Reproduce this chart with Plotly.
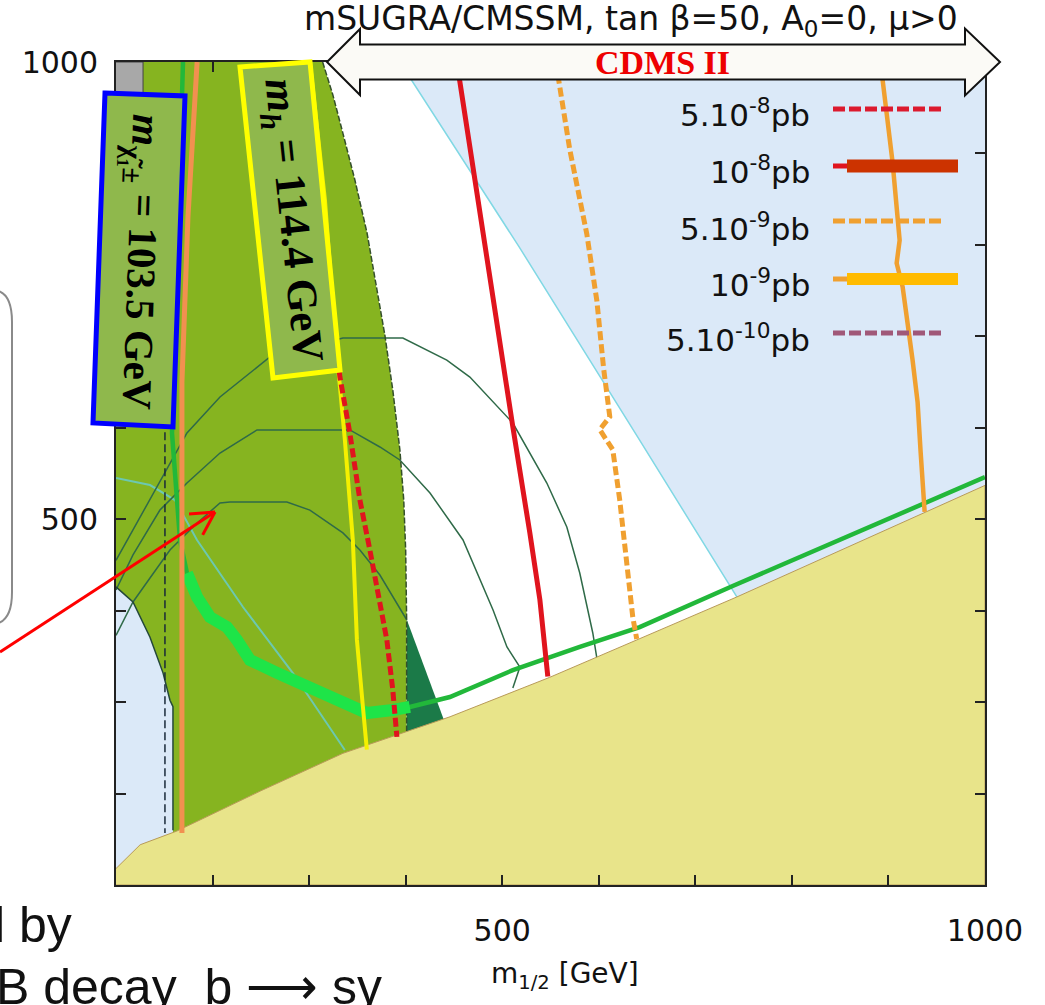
import math
import plotly.graph_objects as go

# ---------------- data (m_1/2 [GeV], m_0 [GeV]) ----------------
# stau-LSP excluded wedge (upper edge)
stau_m12 = [100, 125, 163, 250, 335, 446, 549, 743, 1000]
stau_m0 = [118, 144, 159, 203, 244, 284, 327, 415, 537]

# b -> s gamma excluded region (olive)
bsg_m12 = [100, 117.6, 135.2, 148.7, 155.9, 159, 159, 401, 401, 400, 398, 394, 386.7, 378.5, 370, 360, 347.4, 335, 324.6, 314, 100]
bsg_m0 = [426, 409.5, 371, 332, 302, 295, 150, 150, 390, 466, 521, 576, 641, 701, 751, 813, 871, 922, 964, 1000, 1000]

# g-2 favoured region (white)
gm2_m12 = [300, 394, 518, 642, 743, 800, 300]
gm2_m0 = [1000, 1000, 797, 587, 415, 300, 200]
gm2_edge_m12 = [394, 518, 642, 743]
gm2_edge_m0 = [1000, 797, 587, 415]

# small grey region, top left
grey_m12 = [100, 128, 128, 100]
grey_m0 = [1000, 1000, 860, 860]

# dark green wedge next to the b -> s gamma boundary
wedge_m12 = [401.2, 445, 401.2]
wedge_m0 = [390, 265, 240]

# left (light blue) boundary and right edge of the b -> s gamma region
lb_edge_m12 = [100, 117.6, 135.2, 148.7, 155.9, 159, 159]
lb_edge_m0 = [426, 409.5, 371, 332, 302, 295, 160]
bsg_edge_m12 = [314, 324.6, 335, 347.4, 360, 370, 378.5, 386.7, 394, 398, 400, 401, 401]
bsg_edge_m0 = [1000, 964, 922, 871, 813, 751, 701, 641, 576, 521, 466, 390, 264]

# thin dark-green contours
c1_m12 = [100, 117.6, 135.2, 155.9, 181.8, 207.7, 218, 277, 300.8, 335, 352.6, 373.3, 401.2]
c1_m0 = [373, 409.5, 435.7, 466.4, 493.7, 517.8, 518.8, 518.8, 510, 485, 466.4, 439, 389.8]
c2_m12 = [100, 117.6, 145.5, 173.5, 207.7, 246, 342.2, 373.3, 394, 425.2, 459.4, 490.5, 504.9, 518.3, 511]
c2_m0 = [422.6, 460.9, 510, 539.6, 572.4, 597.6, 597.6, 579, 564.8, 528.7, 477.3, 400.7, 360.3, 338.4, 315.4]
c3_m12 = [100, 135.2, 173.5, 207.7, 259.4, 335, 397.1, 442.6, 466.5, 511, 546.2, 566.9, 580.3, 593.8, 598]
c3_m0 = [455, 521, 594.3, 633.7, 677.4, 698.2, 698.2, 674, 655.5, 605.2, 539.6, 491.5, 441.2, 375.6, 348.2]

# light teal line inside the olive region
teal_m12 = [100, 135.2, 161, 183.9, 231.5, 283.2, 337]
teal_m0 = [545, 537.4, 521, 477.3, 404, 331.8, 247.6]

# LEP chargino bound (dashed) and chargino mass contour
lep_m12 = [150.7, 150.7]
lep_m0 = [700, 157]
chi_m12 = [184, 174.5, 168.3, 168.3]
chi_m0 = [1000, 830, 650, 157]

# WMAP relic density strip
wmap_m12 = [169.4, 158, 166.3, 173.5, 183.9, 197.3, 214.9, 225.3, 238.7, 266.7, 300.8, 335, 359.8, 386.8, 404.3, 445.8, 511, 580.3, 642.4, 738.7, 863, 1000]
wmap_m0 = [1000, 594, 477, 441, 415, 393, 382, 368, 346, 332, 316.5, 299, 288, 291.4, 294.7, 305.6, 335, 360.3, 382, 427, 483, 546]
wmap_band = slice(3, 15)

# Higgs mass contour m_h = 114.4 GeV
mh_m12 = [300.8, 316.4, 326.7, 337, 345.3, 349.5, 355.7, 359.8]
mh_m0 = [1000, 849, 704, 587, 477, 368, 295, 248]

# spin-independent cross-section contours
s5e8_m12 = [290.5, 309, 321.5, 331.9, 342.2, 352.6, 363, 370.2, 380.5, 386.7, 390.9]
s5e8_m0 = [1000, 849, 740, 655.5, 594, 521, 466, 422.6, 368, 313, 262]
s1e8_m12 = [453, 490.3, 511, 528.6, 539, 547.2]
s1e8_m0 = [1000, 740, 601, 485, 412, 328]
s5e9_m12 = [555.5, 570, 587.6, 598, 605, 611.4, 601, 614.5, 621.7, 629, 635.2, 639.3]
s5e9_m0 = [1000, 904, 812, 739, 665, 612, 598, 576, 521, 448, 393, 369]
s1e9_m12 = [889.9, 894, 904.3, 911.6, 908.5, 914.7, 925, 930.2, 933.3, 937.5]
s1e9_m0 = [1000, 980, 890, 805, 780, 754, 674, 628, 574, 508]

legend_labels = ["5.10<sup>-8</sup>pb", "10<sup>-8</sup>pb", "5.10<sup>-9</sup>pb",
                 "10<sup>-9</sup>pb", "5.10<sup>-10</sup>pb"]
major_ticks = [500, 1000]
major_text = ["500", "1000"]

# ---------------- colours ----------------
C_BG = "#dbe9f8"
C_OLIVE = "#86b420"
C_STAU = "#e8e48a"
C_WEDGE = "#1b7a48"
C_CONT = "#2f6a48"
C_TEAL = "#6cc8b0"
C_CYAN = "#80d8e4"
C_RED = "#e0141e"
C_ORANGE = "#f0a030"

fig = go.Figure()


def area(x, y, color, line_color=None, line_width=0):
    fig.add_trace(go.Scatter(x=x, y=y, mode="lines", fill="toself", fillcolor=color,
                             line=dict(color=line_color or color, width=line_width),
                             hoverinfo="skip"))


def curve(x, y, color, width, dash="solid"):
    fig.add_trace(go.Scatter(x=x, y=y, mode="lines",
                             line=dict(color=color, width=width, dash=dash),
                             hoverinfo="skip"))


area(gm2_m12, gm2_m0, "#ffffff")
area(bsg_m12, bsg_m0, C_OLIVE)
area(grey_m12, grey_m0, "#a8a8a8", "#444444", 1)
area(wedge_m12, wedge_m0, C_WEDGE)

curve(gm2_edge_m12, gm2_edge_m0, C_CYAN, 1.5)
curve(teal_m12, teal_m0, C_TEAL, 2)
curve(c1_m12, c1_m0, C_CONT, 1.5)
curve(c2_m12, c2_m0, C_CONT, 1.5)
curve(c3_m12, c3_m0, C_CONT, 1.5)
curve(lb_edge_m12, lb_edge_m0, "#24483a", 1.5)
curve(bsg_edge_m12, bsg_edge_m0, "#34502a", 1.5, "6px,2px")
curve(lep_m12, lep_m0, "#1a2a3a", 1.5, "8px,4px")

# stau wedge on top so every contour ends on its edge
area(stau_m12 + [1000, 100], stau_m0 + [100, 100], C_STAU, "#b89a58", 1)

# WMAP strip: thin line everywhere, wide band where the strip broadens
curve(wmap_m12, wmap_m0, "#22b83a", 4.5)
curve(wmap_m12[wmap_band], wmap_m0[wmap_band], "#1ee448", 12)

curve(chi_m12, chi_m0, "#f29050", 5)
curve(mh_m12, mh_m0, "#f4f000", 4)
curve(s5e8_m12, s5e8_m0, C_RED, 5, "9px,4px")
curve(s1e8_m12, s1e8_m0, C_RED, 5)
curve(s5e9_m12, s5e9_m0, C_ORANGE, 5, "9px,4px")
curve(s1e9_m12, s1e9_m0, C_ORANGE, 4.5)

# ---------------- page geometry helpers for decorations ----------------
L, T, W, H = 116, 62, 869, 823


def P(px, py):
    return (px - L) / W, (T + H - py) / H


def path(points, close=True):
    s = ""
    for i, (px, py) in enumerate(points):
        x, y = P(px, py)
        s += ("M" if i == 0 else "L") + f"{x:.5f},{y:.5f} "
    return s + ("Z" if close else "")


shapes = []

# double-headed CDMS II arrow
arrow_pts = [(327, 62), (360, 29), (360, 44.5), (965, 44.5), (965, 28.5), (1000, 62),
             (965, 95.5), (965, 79.5), (360, 79.5), (360, 95)]
shapes.append(dict(type="path", xref="paper", yref="paper", path=path(arrow_pts),
                   fillcolor="#fbfaf6", line=dict(color="#111111", width=2)))

# tilted label boxes
blue_box = [(105, 93), (185, 96), (173, 427), (93, 423)]
yellow_box = [(240, 67), (310, 62), (340, 370), (273, 378)]
shapes.append(dict(type="path", xref="paper", yref="paper", path=path(blue_box),
                   fillcolor="#8fb84c", line=dict(color="#0000ff", width=5)))
shapes.append(dict(type="path", xref="paper", yref="paper", path=path(yellow_box),
                   fillcolor="#8fb84c", line=dict(color="#ffff00", width=5)))

# grey rounded box at the left edge of the page
gx0, gy0 = P(-40, 290)
gx1, gy1 = P(-8, 290)
gqx, gqy = P(12, 290)
gx2, gy2 = P(12, 322)
gx3, gy3 = P(12, 592)
gqx2, gqy2 = P(12, 624)
gx4, gy4 = P(-8, 624)
gx5, gy5 = P(-40, 624)
shapes.append(dict(type="path", xref="paper", yref="paper",
                   path=(f"M{gx0},{gy0} L{gx1},{gy1} Q{gqx},{gqy} {gx2},{gy2} "
                         f"L{gx3},{gy3} Q{gqx2},{gqy2} {gx4},{gy4} L{gx5},{gy5}"),
                   line=dict(color="#8a8a8a", width=2)))

# red pointer arrow
tail, tip = (0, 652), (215, 512)
dx, dy = tip[0] - tail[0], tip[1] - tail[1]
ln = math.hypot(dx, dy)
ux, uy = dx / ln, dy / ln
for ang in (0.5, -0.5):
    ca, sa = math.cos(ang), math.sin(ang)
    bx = -(ux * ca - uy * sa) * 26
    by = -(ux * sa + uy * ca) * 26
    x0, y0 = P(*tip)
    x1, y1 = P(tip[0] + bx, tip[1] + by)
    shapes.append(dict(type="line", xref="paper", yref="paper", x0=x0, y0=y0, x1=x1, y1=y1,
                       line=dict(color="#ff0000", width=3)))
x0, y0 = P(*tail)
x1, y1 = P(*tip)
shapes.append(dict(type="line", xref="paper", yref="paper", x0=x0, y0=y0, x1=x1, y1=y1,
                   line=dict(color="#ff0000", width=3)))

# legend samples
legend_rows = [
    (109, [(833, 942, "#dc1a2e", 5, "12px,4px")]),
    (166, [(833, 850, C_RED, 5, "solid"), (847, 958, "#cc3300", 13, "solid")]),
    (221, [(833, 942, C_ORANGE, 5, "12px,4px")]),
    (279, [(833, 850, C_ORANGE, 5, "solid"), (847, 958, "#ffbb00", 12, "solid")]),
    (333, [(833, 942, "#a05878", 5, "12px,4px")]),
]
for py, segs in legend_rows:
    for xa, xb, col, wd, ds in segs:
        x0, y0 = P(xa, py)
        x1, _ = P(xb, py)
        shapes.append(dict(type="line", xref="paper", yref="paper", x0=x0, y0=y0, x1=x1, y1=y0,
                           line=dict(color=col, width=wd, dash=ds)))

annotations = []


def text(px, py, s, size, family="DejaVu Sans", color="#111111", xanchor="center",
         yanchor="middle", angle=0):
    x, y = P(px, py)
    annotations.append(dict(x=x, y=y, xref="paper", yref="paper", text=s, showarrow=False,
                            xanchor=xanchor, yanchor=yanchor, textangle=angle,
                            font=dict(family=family, size=size, color=color)))


text(631, 20, "mSUGRA/CMSSM, tan β=50, A<sub>0</sub>=0, μ>0", 33)
text(662, 62, "<b>CDMS II</b>", 34, family="Liberation Serif", color="#ee0000")
for lab, py in zip(legend_labels, [113, 170, 227, 283, 338]):
    text(812, py, lab, 31, xanchor="right")

text(139, 262, "<b><i>m</i><sub>χ̃₁±</sub> = 103.5 GeV</b>", 41,
     family="Liberation Serif", color="#000000", angle=92)
text(291, 220, "<b><i>m<sub>h</sub></i> = 114.4 GeV</b>", 43,
     family="Liberation Serif", color="#000000", angle=84)

text(565, 975, "m<sub>1/2</sub> [GeV]", 28)
text(74, 925, "l by", 50, family="Liberation Sans", xanchor="right")
text(-6, 987, "B decay  b ⟶ sγ", 50, family="Liberation Sans", xanchor="left")

axis_common = dict(
    range=[100, 1000], tickvals=major_ticks, ticktext=major_text,
    ticks="inside", ticklen=10, tickwidth=1.5, tickcolor="#222222",
    minor=dict(ticks="inside", ticklen=10, tickwidth=1.5, tickcolor="#222222",
               dtick=100, tick0=0),
    showline=True, linecolor="#222222", linewidth=2, mirror="allticks",
    showgrid=False, zeroline=False,
    tickfont=dict(family="DejaVu Sans", size=30, color="#111111"),
)

fig.update_layout(
    width=1045, height=1005,
    margin=dict(l=L, r=1045 - L - W, t=T, b=1005 - T - H),
    paper_bgcolor="#ffffff", plot_bgcolor=C_BG,
    showlegend=False,
    shapes=shapes, annotations=annotations,
    xaxis=dict(axis_common, ticklabelstandoff=18),
    yaxis=dict(axis_common, ticklabelstandoff=10),
)

fig.write_html("out.html")
